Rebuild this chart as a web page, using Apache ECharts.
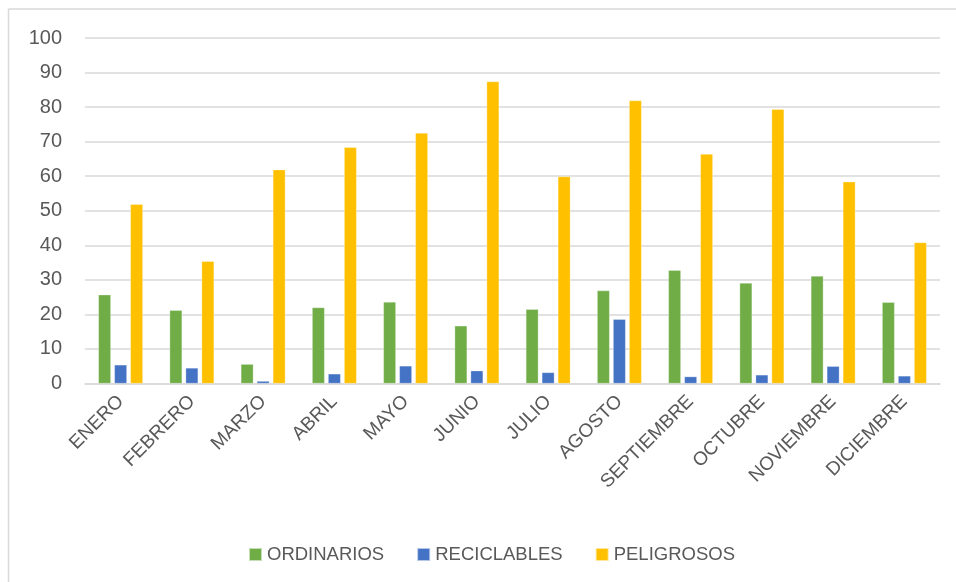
<!DOCTYPE html>
<html>
<head>
<meta charset="utf-8">
<script src="https://cdn.jsdelivr.net/npm/echarts@6/dist/echarts.min.js"></script>
<style>
  html, body { margin: 0; padding: 0; background: #fff; }
  #chart { width: 956px; height: 582px; }
</style>
</head>
<body>
<div id="chart"></div>
<script>
// Monthly waste generation by type
const months = ['ENERO', 'FEBRERO', 'MARZO', 'ABRIL', 'MAYO', 'JUNIO',
  'JULIO', 'AGOSTO', 'SEPTIEMBRE', 'OCTUBRE', 'NOVIEMBRE', 'DICIEMBRE'];
const ordinarios  = [25.7, 21.2, 5.6, 22.0, 23.6, 16.7, 21.5, 26.9, 32.8, 29.1, 31.1, 23.5];
const reciclables = [5.4, 4.5, 0.7, 2.8, 5.1, 3.7, 3.2, 18.6, 2.0, 2.5, 5.0, 2.2];
const peligrosos  = [51.9, 35.4, 61.9, 68.4, 72.5, 87.4, 59.9, 81.9, 66.4, 79.4, 58.4, 40.8];
const yTicks = { min: 0, max: 100, step: 10 };

const FONT = '"Liberation Sans", Arial, sans-serif';
const TEXT = '#595959';
const GRID = '#d9d9d9';

function barSeries(name, data, color) {
  return {
    name, type: 'bar', data,
    barWidth: 12.5,
    barGap: '28%',
    itemStyle: { color, borderColor: 'rgba(255,255,255,0.6)', borderWidth: 0.5 }
  };
}

const chart = echarts.init(document.getElementById('chart'), null, { renderer: 'canvas' });
chart.setOption({
  animation: false,
  backgroundColor: '#fff',
  textStyle: { fontFamily: FONT },
  grid: { left: 85, right: 16, top: 38, bottom: 198.5, containLabel: false },
  legend: {
    left: 243, top: 540,
    itemWidth: 13, itemHeight: 13, itemGap: 32,
    icon: 'rect',
    textStyle: { fontSize: 18.5, color: TEXT, fontFamily: FONT, padding: 0 },
    data: ['ORDINARIOS', 'RECICLABLES', 'PELIGROSOS']
  },
  xAxis: {
    type: 'category', data: months,
    axisLine: { lineStyle: { color: GRID, width: 1.5 } },
    axisTick: { show: false },
    axisLabel: { rotate: 45, margin: 15, fontSize: 19, color: TEXT, fontFamily: FONT, interval: 0 }
  },
  yAxis: {
    type: 'value', min: yTicks.min, max: yTicks.max, interval: yTicks.step,
    axisLine: { show: false }, axisTick: { show: false },
    axisLabel: { margin: 23, fontSize: 20, color: TEXT, fontFamily: FONT },
    splitLine: { lineStyle: { color: GRID, width: 1.5 } }
  },
  graphic: [
    { type: 'line', shape: { x1: 8.5, y1: 9, x2: 956, y2: 9 }, style: { stroke: '#d9d9d9', lineWidth: 1.5 } },
    { type: 'line', shape: { x1: 8.5, y1: 9, x2: 8.5, y2: 582 }, style: { stroke: '#d9d9d9', lineWidth: 1.5 } }
  ],
  series: [
    barSeries('ORDINARIOS', ordinarios, '#70AD47'),
    barSeries('RECICLABLES', reciclables, '#4472C4'),
    barSeries('PELIGROSOS', peligrosos, '#FFC000')
  ]
});
</script>
</body>
</html>
